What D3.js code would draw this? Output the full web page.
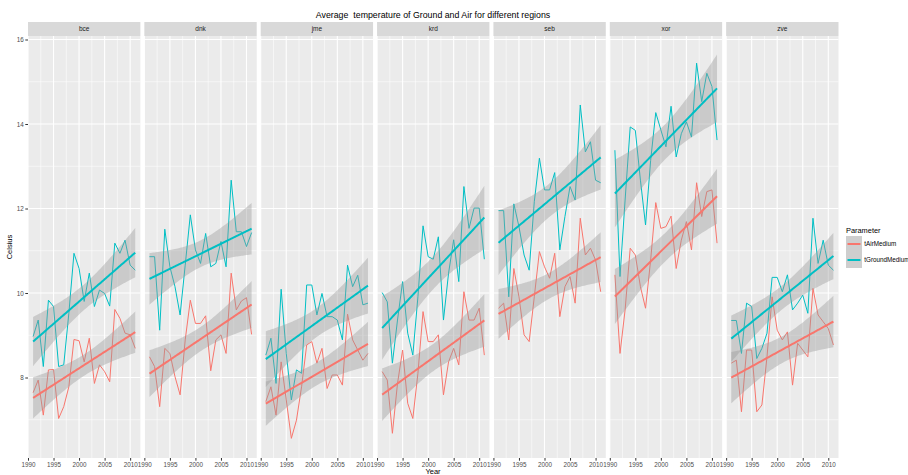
<!DOCTYPE html>
<meta charset="utf-8">
<style>
    body {
        margin: 0;
        background-color: #ffffff;
    }

    text {
        font-family: "Liberation Sans", Arial, sans-serif;
    }
</style>
<svg width="908" height="475"></svg>

<body>
    <script src="https://d3js.org/d3.v7.min.js"></script>
    <script>
        // ---- data ----
        var years = [1991, 1992, 1993, 1994, 1995, 1996, 1997, 1998, 1999, 2000, 2001,
            2002, 2003, 2004, 2005, 2006, 2007, 2008, 2009, 2010, 2011];
        var regions = ["bce", "dnk", "jme", "krd", "seb", "xor", "zve"];
        var parameters = ["tAirMedium", "tGroundMedium"];
        var yTicks = [8, 10, 12, 14, 16];
        var xTicks = [1990, 1995, 2000, 2005, 2010];

        var airBce = [7.64, 7.94, 7.11, 8.18, 8.19, 7.03, 7.31, 7.78, 8.90, 8.87, 8.37, 8.93, 7.86, 8.30, 8.14, 7.90, 9.61, 9.40, 9.05, 9.01, 8.69];
        var groundBce = [8.97, 9.36, 8.26, 9.83, 9.68, 8.26, 8.30, 9.52, 10.94, 10.58, 9.80, 10.47, 9.68, 10.07, 9.99, 9.69, 11.18, 10.94, 11.25, 10.66, 10.54];
        var airDnk = [8.49, 8.26, 7.31, 8.69, 8.57, 8.02, 7.59, 8.89, 9.83, 9.28, 9.28, 9.46, 8.16, 8.89, 9.01, 8.57, 10.47, 9.60, 9.81, 9.89, 9.02];
        var groundDnk = [10.86, 10.86, 9.12, 11.51, 10.62, 10.15, 9.48, 10.66, 11.85, 11.02, 10.70, 11.41, 10.62, 10.70, 11.22, 10.62, 12.67, 11.45, 11.45, 11.10, 11.43];
        var airJme = [7.43, 7.78, 7.11, 8.37, 7.47, 6.56, 6.99, 7.78, 8.77, 8.85, 8.34, 8.69, 7.74, 8.06, 8.06, 7.82, 9.50, 8.89, 8.65, 8.41, 8.57];
        var groundJme = [8.53, 8.93, 7.86, 10.09, 8.57, 7.47, 8.18, 8.10, 10.19, 10.19, 9.48, 9.99, 9.44, 9.44, 9.36, 8.89, 10.66, 10.15, 10.42, 9.72, 9.76];
        var airKrd = [8.14, 7.94, 6.68, 7.86, 8.65, 7.39, 7.03, 8.10, 9.56, 8.85, 8.85, 9.01, 7.59, 8.37, 8.69, 8.30, 10.03, 9.36, 9.36, 9.64, 8.53];
        var groundKrd = [10.01, 9.79, 8.34, 9.36, 10.27, 9.05, 8.53, 9.91, 11.59, 10.86, 10.80, 11.33, 9.36, 10.47, 11.26, 10.27, 12.52, 11.53, 12.01, 12.01, 10.80];
        var airSeb = [9.64, 9.76, 8.89, 10.58, 9.91, 9.01, 8.85, 9.91, 10.98, 10.62, 10.35, 10.94, 9.44, 10.15, 10.39, 9.76, 11.77, 10.90, 11.06, 10.78, 10.03];
        var groundSeb = [11.95, 11.95, 9.91, 12.11, 11.57, 10.90, 10.54, 12.16, 13.19, 12.44, 12.44, 12.85, 11.02, 11.81, 12.52, 12.20, 14.45, 13.34, 13.58, 12.67, 12.61];
        var airXor = [10.43, 8.57, 9.60, 11.06, 10.90, 10.15, 9.64, 10.78, 12.14, 11.53, 11.57, 11.82, 10.58, 11.25, 11.69, 11.02, 12.61, 11.81, 12.40, 12.44, 11.18];
        var groundXor = [13.38, 10.39, 12.20, 13.93, 13.85, 12.67, 11.61, 13.14, 14.27, 13.86, 13.46, 14.42, 13.22, 13.77, 14.05, 13.69, 15.44, 14.53, 15.20, 14.89, 13.62];
        var airZve = [8.34, 8.41, 7.19, 8.65, 8.65, 7.19, 7.35, 8.49, 9.91, 9.12, 8.89, 9.08, 7.82, 8.81, 8.65, 8.49, 10.11, 9.48, 9.32, 9.16, 8.77];
        var groundZve = [9.35, 9.35, 8.57, 9.76, 9.68, 8.45, 8.69, 9.05, 10.37, 10.37, 10.03, 10.43, 9.60, 9.76, 9.95, 9.52, 11.77, 10.70, 11.25, 10.66, 10.54];

        var seriesByRegion = {
            bce: [airBce, groundBce],
            dnk: [airDnk, groundDnk],
            jme: [airJme, groundJme],
            krd: [airKrd, groundKrd],
            seb: [airSeb, groundSeb],
            xor: [airXor, groundXor],
            zve: [airZve, groundZve]
        };

        // ---- layout ----
        var svg = d3.select("svg");
        var stripTop = 22,
            panelTop = 36,
            panelBottom = 458;

        var fx = d3.scaleBand().domain(regions).range([28, 838.5]).paddingInner(0.0344);
        var x = d3.scaleLinear().domain([1990, 2012]).range([0, fx.bandwidth()]);
        var y = d3.scaleLinear().domain([6.095, 16.083]).range([panelBottom, panelTop]);
        var colour = d3.scaleOrdinal().domain(parameters).range(["#F8766D", "#00BFC4"]);

        var line = d3.line()
            .x(function (d) { return x(d.year); })
            .y(function (d) { return y(d.value); });

        var area = d3.area()
            .x(function (d) { return x(d.year); })
            .y0(function (d) { return y(d.lo); })
            .y1(function (d) { return y(d.hi); });

        // linear model with 95% confidence band, like geom_smooth(method = "lm")
        function fitLm(points) {
            var n = points.length;
            var mx = d3.mean(points, function (d) { return d.year; });
            var my = d3.mean(points, function (d) { return d.value; });
            var sxx = d3.sum(points, function (d) { return (d.year - mx) * (d.year - mx); });
            var sxy = d3.sum(points, function (d) { return (d.year - mx) * (d.value - my); });
            var b = sxy / sxx, a = my - b * mx;
            var rss = d3.sum(points, function (d) { var r = d.value - (a + b * d.year); return r * r; });
            var s = Math.sqrt(rss / (n - 2));
            var t = 2.093;
            var x0 = d3.min(points, function (d) { return d.year; });
            var x1 = d3.max(points, function (d) { return d.year; });
            return d3.range(0, 81).map(function (i) {
                var xv = x0 + (x1 - x0) * i / 80;
                var fit = a + b * xv;
                var se = s * Math.sqrt(1 / n + (xv - mx) * (xv - mx) / sxx);
                return { year: xv, fit: fit, lo: fit - t * se, hi: fit + t * se };
            });
        }

        regions.forEach(function (region) {
            var g = svg.append("g")
                .attr("transform", "translate(" + fx(region) + ",0)");
            var w = fx.bandwidth();

            g.append("rect")
                .attr("x", 0).attr("y", panelTop)
                .attr("width", w).attr("height", panelBottom - panelTop)
                .attr("fill", "#EBEBEB");

            // minor grid
            [7, 9, 11, 13, 15].forEach(function (v) {
                g.append("line").attr("x1", 0).attr("x2", w)
                    .attr("y1", y(v)).attr("y2", y(v))
                    .attr("stroke", "#ffffff").attr("stroke-width", 0.55);
            });
            [1992.5, 1997.5, 2002.5, 2007.5].forEach(function (v) {
                g.append("line").attr("y1", panelTop).attr("y2", panelBottom)
                    .attr("x1", x(v)).attr("x2", x(v))
                    .attr("stroke", "#ffffff").attr("stroke-width", 0.55);
            });
            // major grid
            yTicks.forEach(function (v) {
                g.append("line").attr("x1", 0).attr("x2", w)
                    .attr("y1", y(v)).attr("y2", y(v))
                    .attr("stroke", "#ffffff").attr("stroke-width", 1.1);
            });
            xTicks.forEach(function (v) {
                g.append("line").attr("y1", panelTop).attr("y2", panelBottom)
                    .attr("x1", x(v)).attr("x2", x(v))
                    .attr("stroke", "#ffffff").attr("stroke-width", 1.1);
            });

            // strip
            g.append("rect")
                .attr("x", 0).attr("y", stripTop)
                .attr("width", w).attr("height", panelTop - stripTop)
                .attr("fill", "#D9D9D9");
            g.append("text")
                .attr("x", w / 2).attr("y", (stripTop + panelTop) / 2)
                .attr("dy", "0.35em")
                .attr("text-anchor", "middle")
                .attr("font-size", 6.5)
                .attr("fill", "#1A1A1A")
                .text(region);

            var series = seriesByRegion[region].map(function (vals, i) {
                return {
                    parameter: parameters[i],
                    points: years.map(function (yr, j) { return { year: yr, value: vals[j] }; })
                };
            });

            // raw lines
            series.forEach(function (s) {
                g.append("path")
                    .datum(s.points)
                    .attr("d", line)
                    .attr("fill", "none")
                    .attr("stroke", colour(s.parameter))
                    .attr("stroke-width", 1);
            });

            // smooth: ribbon + fitted line
            series.forEach(function (s) {
                var fit = fitLm(s.points);
                g.append("path")
                    .datum(fit)
                    .attr("d", area)
                    .attr("fill", "#999999")
                    .attr("fill-opacity", 0.4);
                g.append("path")
                    .datum(fit)
                    .attr("d", d3.line()
                        .x(function (d) { return x(d.year); })
                        .y(function (d) { return y(d.fit); }))
                    .attr("fill", "none")
                    .attr("stroke", colour(s.parameter))
                    .attr("stroke-width", 2);
            });

            // bottom axis
            var ax = g.append("g")
                .attr("transform", "translate(0," + panelBottom + ")")
                .call(d3.axisBottom(x).tickValues(xTicks).tickFormat(d3.format("d")).tickSize(2.7).tickPadding(2));
            ax.select(".domain").remove();
            ax.selectAll("line").attr("stroke", "#333333");
            ax.selectAll("text").attr("font-size", 6.3).attr("fill", "#4D4D4D")
                .attr("font-family", "Liberation Sans, Arial, sans-serif");
        });

        // left axis
        var ay = svg.append("g")
            .attr("transform", "translate(" + fx(regions[0]) + ",0)")
            .call(d3.axisLeft(y).tickValues(yTicks).tickSize(2.7).tickPadding(1.5));
        ay.select(".domain").remove();
        ay.selectAll("line").attr("stroke", "#333333");
        ay.selectAll("text").attr("font-size", 6.3).attr("fill", "#4D4D4D")
            .attr("font-family", "Liberation Sans, Arial, sans-serif");

        // titles
        svg.append("text")
            .attr("x", 433).attr("y", 17.5)
            .attr("text-anchor", "middle")
            .attr("font-size", 8.8)
            .attr("fill", "#000000")
            .style("white-space", "pre")
            .text("Average  temperature of Ground and Air for different regions");

        svg.append("text")
            .attr("transform", "translate(12," + (panelTop + panelBottom) / 2 + ") rotate(-90)")
            .attr("text-anchor", "middle")
            .attr("font-size", 7.5)
            .attr("fill", "#000000")
            .text("Celsius");

        svg.append("text")
            .attr("x", 433).attr("y", 474)
            .attr("text-anchor", "middle")
            .attr("font-size", 7.5)
            .attr("fill", "#000000")
            .text("Year");

        // legend
        var legend = svg.append("g").attr("transform", "translate(846,0)");
        legend.append("text")
            .attr("x", 0).attr("y", 232.7)
            .attr("font-size", 7.4)
            .attr("fill", "#000000")
            .text("Parameter");

        parameters.forEach(function (p, i) {
            var ky = 236 + i * 16;
            legend.append("rect")
                .attr("x", 0).attr("y", ky).attr("width", 16).attr("height", 16)
                .attr("fill", "#F2F2F2");
            legend.append("rect")
                .attr("x", 0).attr("y", ky).attr("width", 16).attr("height", 16)
                .attr("fill", "#999999").attr("fill-opacity", 0.4);
            legend.append("line")
                .attr("x1", 1.5).attr("x2", 14.5)
                .attr("y1", ky + 8).attr("y2", ky + 8)
                .attr("stroke", colour(p)).attr("stroke-width", 2);
            legend.append("text")
                .attr("x", 18.3).attr("y", ky + 8)
                .attr("dy", "0.35em")
                .attr("font-size", 6.3)
                .attr("fill", "#000000")
                .text(p);
        });
    </script>
</body>
